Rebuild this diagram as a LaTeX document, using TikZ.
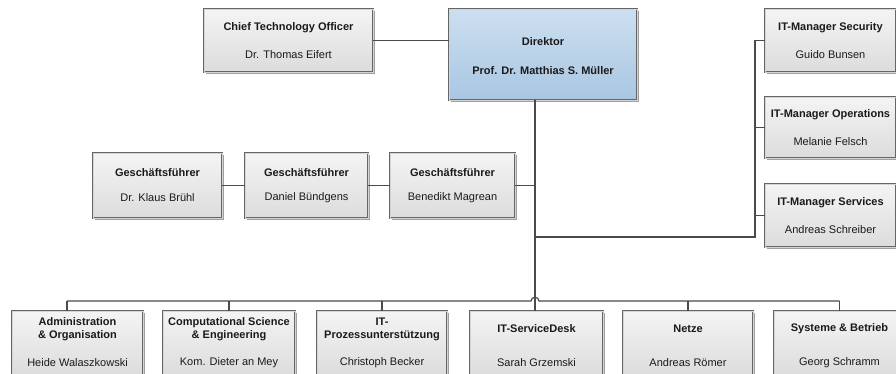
\documentclass[tikz,border=0pt]{standalone}
\usepackage{fontspec}
\setmainfont{Liberation Sans}
\usetikzlibrary{shadows,calc}
\definecolor{lin}{HTML}{4A4A4A}
\definecolor{boxedge}{HTML}{666666}
\definecolor{boxin}{HTML}{D4D4D4}
\definecolor{gtop}{HTML}{F4F4F4}
\definecolor{gbot}{HTML}{DCDCDC}
\definecolor{btop}{HTML}{CCDFF0}
\definecolor{bbot}{HTML}{A9C6E2}
\definecolor{shad}{HTML}{A0A0A0}
\definecolor{txt}{HTML}{1A1A1A}
\begin{document}
\begin{tikzpicture}[x=1pt,y=-1pt,
  box/.style={rectangle, draw=boxedge, double=boxin, double distance=1pt, line width=0.7pt,
    top color=gtop, bottom color=gbot, inner sep=0pt,
    drop shadow={shadow xshift=2pt, shadow yshift=-2pt, fill=shad, opacity=1}},
  bluebox/.style={box, top color=btop, bottom color=bbot},
  ttl/.style={font=\fontsize{11}{13}\selectfont\bfseries, text=txt, align=center, inner sep=0pt},
  nm/.style={font=\fontsize{11}{13}\selectfont, text=txt, inner sep=0pt},
  conn/.style={draw=lin, line width=1.2pt}]
\useasboundingbox (0,0) rectangle (896,373);
\fill[white] (0,0) rectangle (896,373);
\clip (0,0) rectangle (896,373);

% boxes
\node[box, minimum width=169pt, minimum height=63pt] (cto) at (288.5,40.5) {};
\node[bluebox, minimum width=188pt, minimum height=91pt] (dir) at (543,54.5) {};
\node[box, minimum width=131pt, minimum height=63pt] (sec) at (830.5,40.5) {};
\node[box, minimum width=131pt, minimum height=61pt] (ops) at (830.5,127.5) {};
\node[box, minimum width=131pt, minimum height=63pt] (srv) at (830.5,215.5) {};
\node[box, minimum width=129pt, minimum height=65pt] (gf1) at (157.5,185.5) {};
\node[box, minimum width=123pt, minimum height=65pt] (gf2) at (306.5,185.5) {};
\node[box, minimum width=125pt, minimum height=65pt] (gf3) at (452.5,185.5) {};
\node[box, minimum width=131pt, minimum height=65pt] (adm) at (77.5,343.5) {};
\node[box, minimum width=132pt, minimum height=65pt] (cse) at (229,343.5) {};
\node[box, minimum width=130pt, minimum height=65pt] (itp) at (382,343.5) {};
\node[box, minimum width=133pt, minimum height=65pt] (isd) at (536.5,343.5) {};
\node[box, minimum width=130pt, minimum height=65pt] (net) at (688,343.5) {};
\node[box, minimum width=131pt, minimum height=65pt] (sys) at (839.5,343.5) {};

% texts
\node[ttl] (cto-t) at ([yshift=12.5pt]cto.center) {Chief Technology Officer};
\node[nm]  (cto-n) at ([yshift=-14pt]cto.center) {Dr. Thomas Eifert};
\node[ttl] (dir-t) at ([yshift=12.5pt]dir.center) {Direktor};
\node[ttl] (dir-n) at ([yshift=-16.5pt]dir.center) {Prof. Dr. Matthias S. Müller};
\node[ttl] (sec-t) at ([yshift=12.5pt]sec.center) {IT-Manager Security};
\node[nm]  (sec-n) at ([yshift=-14pt]sec.center) {Guido Bunsen};
\node[ttl] (ops-t) at ([yshift=12.5pt]ops.center) {IT-Manager Operations};
\node[nm]  (ops-n) at ([yshift=-14pt]ops.center) {Melanie Felsch};
\node[ttl] (srv-t) at ([yshift=12.5pt]srv.center) {IT-Manager Services};
\node[nm]  (srv-n) at ([yshift=-14pt]srv.center) {Andreas Schreiber};
\node[ttl] (gf1-t) at ([yshift=12.5pt]gf1.center) {Geschäftsführer};
\node[nm]  (gf1-n) at ([yshift=-12.5pt]gf1.center) {Dr. Klaus Brühl};
\node[ttl] (gf2-t) at ([yshift=12.5pt]gf2.center) {Geschäftsführer};
\node[nm]  (gf2-n) at ([yshift=-12.5pt]gf2.center) {Daniel Bündgens};
\node[ttl] (gf3-t) at ([yshift=12.5pt]gf3.center) {Geschäftsführer};
\node[nm]  (gf3-n) at ([yshift=-12.5pt]gf3.center) {Benedikt Magrean};
\node[ttl] (adm-t) at ([yshift=14pt]adm.center) {Administration\\\& Organisation};
\node[nm]  (adm-n) at ([yshift=-19pt]adm.center) {Heide Walaszkowski};
\node[ttl] (cse-t) at ([yshift=14pt]cse.center) {Computational Science\\\& Engineering};
\node[nm]  (cse-n) at ([yshift=-19pt]cse.center) {Kom. Dieter an Mey};
\node[ttl] (itp-t) at ([yshift=14pt]itp.center) {IT-\\Prozessunterstützung};
\node[nm]  (itp-n) at ([yshift=-19pt]itp.center) {Christoph Becker};
\node[ttl] (isd-t) at ([yshift=15pt]isd.center) {IT-ServiceDesk};
\node[nm]  (isd-n) at ([yshift=-19pt]isd.center) {Sarah Grzemski};
\node[ttl] (net-t) at ([yshift=15pt]net.center) {Netze};
\node[nm]  (net-n) at ([yshift=-19pt]net.center) {Andreas Römer};
\node[ttl] (sys-t) at ([yshift=15pt]sys.center) {Systeme \& Betrieb};
\node[nm]  (sys-n) at ([yshift=-19pt]sys.center) {Georg Schramm};

% helper coordinates
\coordinate (tr) at (535,0);
\coordinate (bus) at (0,301);
\coordinate (b1) at (67,301);
\coordinate (itx) at (755,237);
\coordinate (hopL) at (531,301);
\coordinate (hopR) at (539,301);

% connectors
\draw[conn] (cto.east) -- (dir.west |- cto.east);
\draw[conn] (tr |- dir.south) -- (tr |- isd.north);
\draw[conn] (gf1.east) -- (gf2.west);
\draw[conn] (gf2.east) -- (gf3.west);
\draw[conn] (gf3.east) -- (tr |- gf3.east);
\draw[conn] (tr |- itx) -- (itx) -- (itx |- sec.west) -- (sec.west);
\draw[conn] (itx |- ops.west) -- (ops.west);
\draw[conn] (itx |- srv.west) -- (srv.west);
\draw[conn] (b1) -- (hopL) .. controls ($(hopL)+(0,-5)$) and ($(hopR)+(0,-5)$) .. (hopR) -- (sys.north |- bus);
\draw[conn] (b1) -- (b1 |- adm.north);
\draw[conn] (cse.north |- bus) -- (cse.north);
\draw[conn] (itp.north |- bus) -- (itp.north);
\draw[conn] (net.north |- bus) -- (net.north);
\draw[conn] (sys.north |- bus) -- (sys.north);
\end{tikzpicture}
\end{document}
